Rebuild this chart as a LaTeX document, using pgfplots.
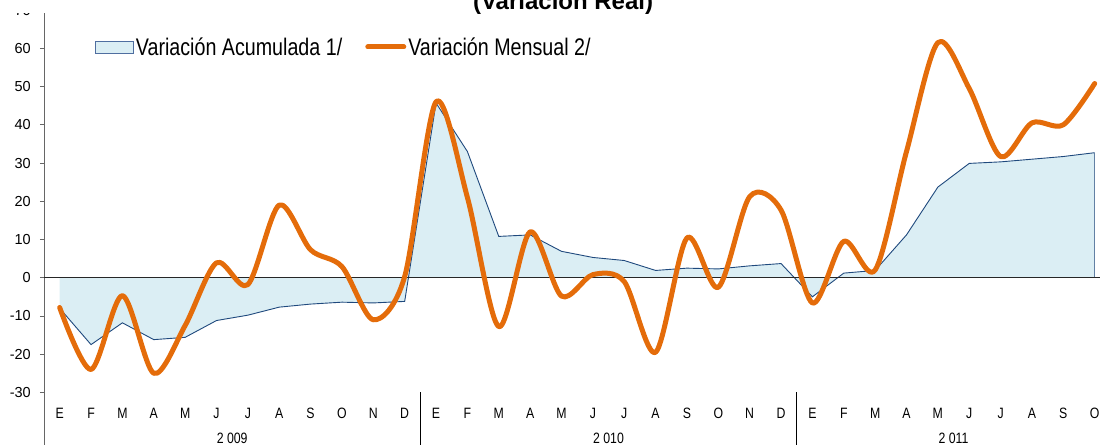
\documentclass[border=0pt]{standalone}
\usepackage{fontspec}
\setmainfont{Liberation Sans}
\newfontfamily\narrow[FakeStretch=0.82]{Liberation Sans}
\usepackage{pgfplots}
\usepackage{pgfplotstable}
\pgfplotsset{compat=1.18}
\definecolor{excelorange}{RGB}{228,108,10}
\definecolor{areafill}{RGB}{219,238,244}
\definecolor{arealine}{RGB}{31,73,125}
\definecolor{legbox}{RGB}{79,110,160}

\pgfplotstableread{
x acum mens
0 -8.0 -7.8
1 -17.5 -24.0
2 -11.8 -4.7
3 -16.2 -25.0
4 -15.6 -12.5
5 -11.2 3.9
6 -9.8 -1.8
7 -7.7 19.0
8 -6.9 7.3
9 -6.4 2.9
10 -6.6 -11.0
11 -6.2 0.3
12 45.7 46.0
13 33.0 21.0
14 10.8 -12.8
15 11.2 12.0
16 6.9 -4.8
17 5.3 0.8
18 4.5 -1.0
19 1.9 -19.5
20 2.5 10.4
21 2.3 -2.5
22 3.1 21.2
23 3.7 17.7
24 -5.0 -6.6
25 1.2 9.5
26 1.9 2.0
27 11.2 33.0
28 23.7 61.5
29 29.9 49.5
30 30.3 31.7
31 31.0 40.5
32 31.7 40.0
33 32.7 50.8
}\datatable

\begin{document}
\begin{tikzpicture}
\begin{axis}[
  name=ax, scale only axis, width=1056pt, height=382.3pt,
  xmin=-0.5, xmax=33.17, ymin=-30, ymax=70,
  clip=false,
  axis x line*=bottom, axis y line*=left,
  x axis line style={draw=none},
  y axis line style={draw=gray!80!black, line width=0.8pt},
  xtick={0,...,33},
  xticklabels={E,F,M,A,M,J,J,A,S,O,N,D,E,F,M,A,M,J,J,A,S,O,N,D,E,F,M,A,M,J,J,A,S,O},
  x tick style={draw=none},
  xticklabel style={font=\narrow\fontsize{15}{18}\selectfont, anchor=north, inner sep=0pt, yshift=-11.6pt},
  ytick={-30,-20,...,70},
  y tick style={draw=gray!80!black, line width=0.8pt},
  tick align=outside, major tick length=4pt,
  yticklabel style={font=\fontsize{14.5}{17}\selectfont, anchor=east, inner sep=0pt, xshift=-9pt},
  /pgf/number format/assume math mode=true,
  legend columns=2,
  legend style={at={(0.0483,0.9035)}, anchor=west, draw=none, fill=none,
    inner sep=0pt, outer sep=0pt,
    font=\narrow\fontsize{24}{28}\selectfont,
    /tikz/every even column/.append style={column sep=21pt}},
  legend cell align=left,
]
\addplot[fill=areafill, draw=none,
  legend image code/.code={\draw[fill=areafill, draw=legbox, line width=0.9pt] (0pt,-6pt) rectangle (38pt,6pt);}]
  table[x=x,y=acum]{\datatable} \closedcycle;
\addlegendentry{Variación Acumulada 1/}
\addplot[arealine, line width=0.9pt, forget plot] table[x=x,y=acum]{\datatable};
\addplot[arealine!70!white, line width=0.9pt, forget plot] coordinates {(33,0) (33,32.7)};
\addplot[black!85, line width=1.2pt, forget plot] coordinates {(-0.5,0) (33.17,0)};
\addplot[excelorange, line width=5pt, smooth, line join=round, line cap=round,
  legend image code/.code={\draw[excelorange, line width=5pt, line cap=round] (2.5pt,0pt) -- (38.5pt,0pt);}]
  table[x=x,y=mens]{\datatable};
\addlegendentry{Variación Mensual 2/}
% white band at the very top (covers upper part of the 70 label, as in reference)
\fill[white] (axis cs:-0.5,70) ++(-50pt,-3pt) rectangle ++(62pt,40pt);
% title (partly cut off at top, as in reference)
\node[anchor=base, font=\bfseries\fontsize{24}{28}\selectfont] at (axis cs:16.05,70.03) {(Variación Real)};
% lower axis extension and year separators
\draw[gray!80!black, line width=0.8pt] (axis cs:-0.5,-30) -- ++(0pt,-70pt);
\draw[black, line width=0.8pt] (axis cs:11.5,-30) -- ++(0pt,-70pt);
\draw[black, line width=0.8pt] (axis cs:23.5,-30) -- ++(0pt,-70pt);
\node[font=\narrow\fontsize{15}{18}\selectfont, anchor=north, inner sep=0pt, yshift=-40.6pt] at (axis cs:5.5,-30) {2 009};
\node[font=\narrow\fontsize{15}{18}\selectfont, anchor=north, inner sep=0pt, yshift=-40.6pt] at (axis cs:17.5,-30) {2 010};
\node[font=\narrow\fontsize{15}{18}\selectfont, anchor=north, inner sep=0pt, yshift=-40.6pt] at (axis cs:28.5,-30) {2 011};
\end{axis}
\pgfresetboundingbox
\path[use as bounding box] ([xshift=-44pt,yshift=-52.6pt]ax.south west) rectangle ([yshift=10.1pt]ax.north east);
\end{tikzpicture}
\end{document}
